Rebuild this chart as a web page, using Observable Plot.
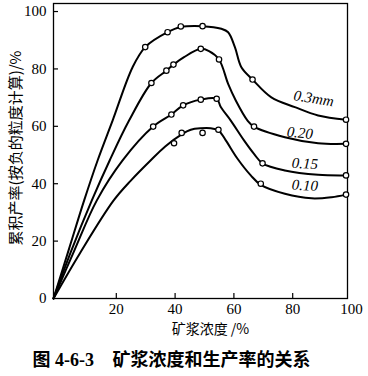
<!DOCTYPE html>
<html><head><meta charset="utf-8">
<script src="https://cdn.jsdelivr.net/npm/d3@7"></script>
<script src="https://cdn.jsdelivr.net/npm/@observablehq/plot@0.6"></script>
<style>body{margin:0;background:#fff}</style>
</head><body><div id="chart"></div>
<script>
// Series names (particle size)
const sizeLabels = ["0.3mm", "0.20", "0.15", "0.10"];

// Measured points: pulp concentration (%) and cumulative yield (%)
const pts03x  = [31.2, 38.8, 43.3, 50.7, 67.7, 99.5];
const pts03y  = [87.6, 92.8, 94.8, 94.9, 76.3, 62.3];
const pts020x = [33.3, 38.4, 40.8, 50.1, 56.3, 68.2, 99.5];
const pts020y = [75.1, 79.4, 81.5, 87.0, 83.3, 59.9, 53.9];
const pts015x = [33.9, 40.1, 44.1, 50.1, 55.5, 71.1, 99.5];
const pts015y = [59.9, 64.1, 67.3, 69.3, 69.6, 47.1, 42.9];
const pts010x = [41.0, 43.6, 50.7, 56.1, 70.5, 99.5];
const pts010y = [54.1, 57.7, 57.7, 58.8, 40.0, 36.2];

// Fitted curves
const curve03x  = [0, 5.1, 10.4, 15.0, 20.1, 26.9, 31.2, 38.8, 43.3, 50.7, 57.1, 59.4, 61.7, 63.9, 67.7, 74.1, 82.1, 90.0, 99.5];
const curve03y  = [0, 16.7, 34.1, 48.1, 62.0, 80.6, 87.6, 92.8, 94.6, 94.9, 94.0, 92.8, 87.6, 80.6, 76.3, 70.1, 66.7, 63.8, 62.3];
const curve020x = [0, 6.0, 13.0, 19.1, 25.7, 33.3, 38.4, 40.8, 44.4, 50.1, 52.9, 56.3, 59.4, 62.0, 66.0, 68.2, 78.7, 90.0, 99.5];
const curve020y = [0, 16.5, 34.1, 48.1, 62.0, 75.1, 79.4, 81.5, 84.1, 87.0, 86.2, 83.3, 74.8, 69.0, 62.0, 59.9, 56.2, 54.1, 53.9];
const curve015x = [0, 7.0, 14.7, 23.5, 33.9, 40.1, 44.1, 50.1, 55.5, 56.9, 60.3, 64.8, 68.2, 71.1, 78.7, 90.0, 99.5];
const curve015y = [0, 16.5, 34.1, 48.1, 59.9, 64.1, 67.3, 69.3, 69.6, 66.7, 62.0, 55.1, 50.4, 47.1, 44.6, 43.1, 42.9];
const curve010x = [0, 9.0, 20.4, 26.3, 33.0, 38.0, 43.6, 46.7, 50.1, 53.5, 56.1, 58.6, 62.6, 67.1, 70.5, 78.7, 87.8, 94.6, 99.5];
const curve010y = [0, 15.8, 34.1, 41.1, 48.1, 53.0, 57.2, 58.8, 59.3, 59.3, 58.6, 55.1, 48.7, 42.9, 39.6, 36.5, 34.9, 35.3, 36.2];

// Curve label anchors
const labelX = [88.5, 83.8, 85.5, 85.5];
const labelY = [69.7, 57.7, 47.0, 39.4];
const labelRotate = [9, 5, 3, 3];

// Axes
const xTicks = [20, 40, 60, 80, 100];
const yTicks = [0, 20, 40, 60, 80, 100];
const xTitle = "矿浆浓度 /%";
const yTitle = "累积产率(按负的粒度计算)/%";
const captionNo = "图 4-6-3";
const captionText = "矿浆浓度和生产率的关系";

// Build tables
const ptsX = [pts03x, pts020x, pts015x, pts010x];
const ptsY = [pts03y, pts020y, pts015y, pts010y];
const curX = [curve03x, curve020x, curve015x, curve010x];
const curY = [curve03y, curve020y, curve015y, curve010y];
const points = [], curves = [];
sizeLabels.forEach((s, i) => {
  ptsX[i].forEach((x, j) => points.push({size: s, x, y: ptsY[i][j]}));
  curX[i].forEach((x, j) => curves.push({size: s, x, y: curY[i][j]}));
});
const labels = sizeLabels.map((s, i) => ({text: s, x: labelX[i], y: labelY[i], r: labelRotate[i]}));

const W = 368, H = 376, mL = 53, mR = 21, mT = 3, mB = 78;
const plotW = W - mL - mR, plotH = H - mT - mB;
const serif = '"Liberation Serif", "Noto Sans CJK SC", serif';
const cjk = '"Noto Sans CJK SC", sans-serif';

const chart = Plot.plot({
  width: W, height: H,
  marginLeft: mL, marginRight: mR, marginTop: mT, marginBottom: mB,
  style: {fontFamily: serif, background: "#fff", color: "#000", overflow: "visible"},
  x: {domain: [0, 100]},
  y: {domain: [0, 102.8]},
  marks: [
    Plot.frame({stroke: "#000", strokeWidth: 1.3}),
    Plot.axisX(xTicks, {tickSize: 0, tickPadding: 5, fontSize: 15, dx: 4, label: null, fill: "#000"}),
    Plot.axisY(yTicks, {tickSize: 0, tickPadding: 7, fontSize: 15, label: null, fill: "#000"}),
    Plot.tickX(xTicks.slice(0, 4), {x: d => d, dx: 4, insetTop: plotH - 5, stroke: "#000", strokeWidth: 1.2}),
    Plot.tickY(yTicks.slice(1), {y: d => d, insetRight: plotW - 5, stroke: "#000", strokeWidth: 1.2}),
    Plot.line(curves, {x: "x", y: "y", z: "size", curve: "catmull-rom", stroke: "#000", strokeWidth: 2}),
    Plot.dot(points, {x: "x", y: "y", r: 2.7, fill: "#fff", stroke: "#000", strokeWidth: 1.2}),
    Plot.text(labels, {x: "x", y: "y", text: "text", rotate: "r", fontStyle: "italic", fontSize: 15, fill: "#000"}),
    Plot.text([xTitle], {text: d => d, frameAnchor: "bottom", lineAnchor: "middle", textAnchor: "middle", dx: 10, dy: 31, fontSize: 14, fontFamily: cjk, fill: "#000"}),
    Plot.text([yTitle], {text: d => d, frameAnchor: "left", textAnchor: "middle", lineAnchor: "middle", rotate: -90, dx: -37, dy: -3, fontSize: 15, fontFamily: cjk, fill: "#000"}),
    Plot.text([captionNo], {text: d => d, frameAnchor: "bottom-left", textAnchor: "start", lineAnchor: "middle", dx: -21, dy: 62, fontSize: 18, fontWeight: "bold", fill: "#000"}),
    Plot.text([captionText], {text: d => d, frameAnchor: "bottom-left", textAnchor: "start", lineAnchor: "middle", dx: 59, dy: 62, fontSize: 18, fontWeight: "bold", fontFamily: cjk, fill: "#000"})
  ]
});
document.getElementById("chart").appendChild(chart);
</script>
</body></html>
